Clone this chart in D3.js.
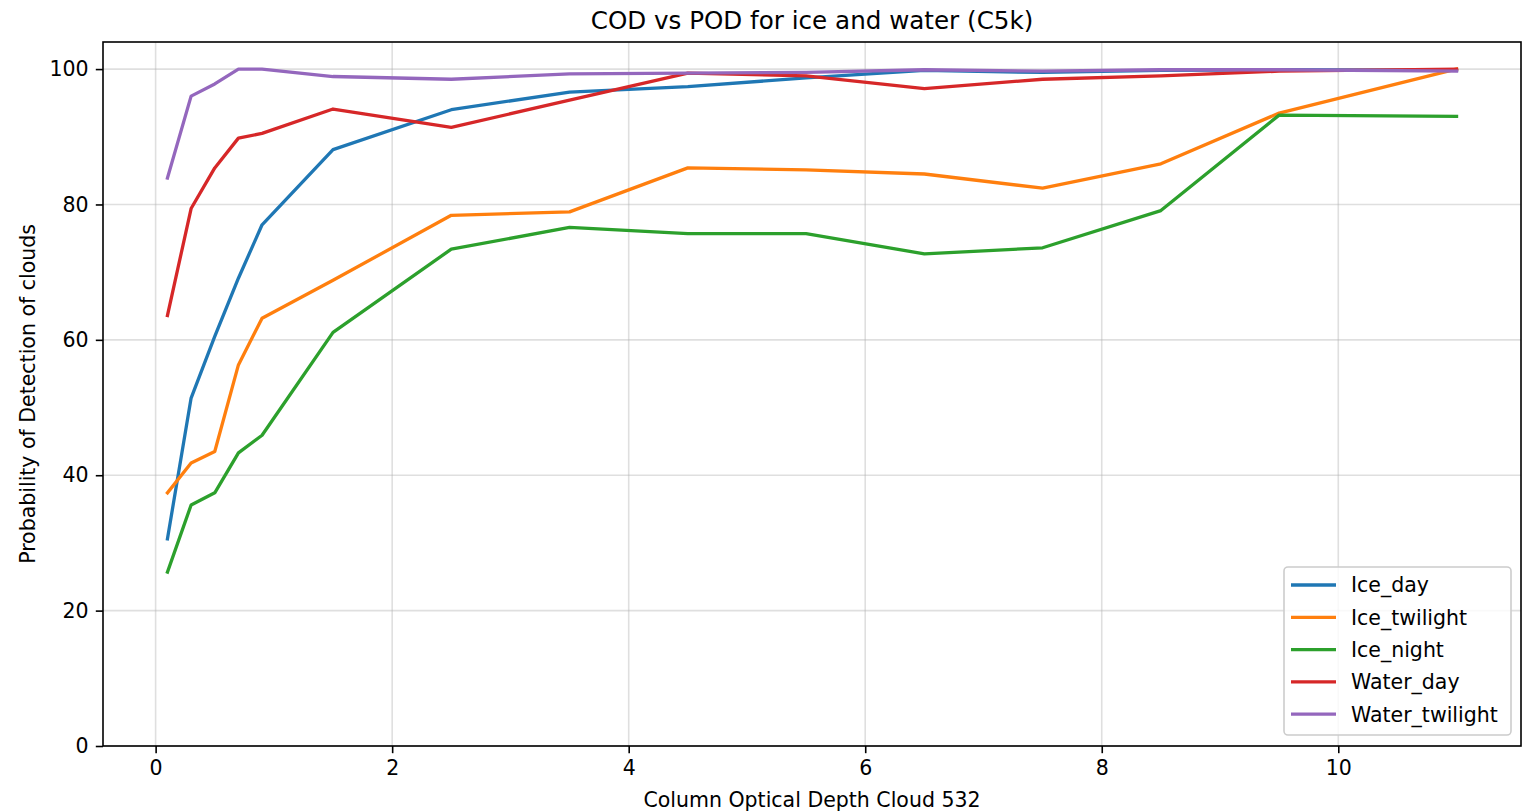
<!DOCTYPE html>
<html>
<head>
<meta charset="utf-8">
<script src="https://cdn.jsdelivr.net/npm/d3@7"></script>
<style>
  html, body { margin: 0; padding: 0; background: #fff; }
  svg { display: block; font-family: "DejaVu Sans", sans-serif; }
</style>
</head>
<body>
<svg id="chart" width="1525" height="811"></svg>
<script>
// Column optical depth bins (x) and probability of detection (%) per cloud class
const cod = [0.1, 0.3, 0.5, 0.7, 0.9, 1.5, 2.5, 3.5, 4.5, 5.5, 6.5, 7.5, 8.5, 9.5, 11];

const iceDay       = [30.6, 51.4, 60.5, 69.1, 77.0, 88.1, 94.0, 96.6, 97.4, 98.7, 99.8, 99.5, 99.8, 99.9, 99.8];
const iceTwilight  = [37.4, 41.8, 43.5, 56.3, 63.2, 68.8, 78.4, 78.9, 85.4, 85.1, 84.5, 82.4, 86.0, 93.5, 100.0];
const iceNight     = [25.7, 35.6, 37.4, 43.3, 45.9, 61.1, 73.4, 76.6, 75.7, 75.7, 72.7, 73.6, 79.1, 93.2, 93.0];
const waterDay     = [63.6, 79.4, 85.4, 89.8, 90.5, 94.1, 91.4, 95.4, 99.4, 99.0, 97.1, 98.5, 99.0, 99.7, 100.0];
const waterTwilight= [83.9, 96.0, 97.8, 100.0, 100.0, 98.9, 98.5, 99.3, 99.4, 99.5, 99.9, 99.7, 99.9, 99.9, 99.7];

const seriesNames  = ["Ice_day", "Ice_twilight", "Ice_night", "Water_day", "Water_twilight"];
const seriesValues = [iceDay, iceTwilight, iceNight, waterDay, waterTwilight];
const seriesColors = ["#1f77b4", "#ff7f0e", "#2ca02c", "#d62728", "#9467bd"];

const xTicks = [0, 2, 4, 6, 8, 10];
const yTicks = [0, 20, 40, 60, 80, 100];
const yLimits = [0, 104];

const titleText  = "COD vs POD for ice and water (C5k)";
const xLabelText = "Column Optical Depth Cloud 532";
const yLabelText = "Probability of Detection of clouds";

// Plot frame
const margin = { left: 103, right: 4, top: 42, bottom: 65 };
const W = 1525, H = 811;
const plotW = W - margin.left - margin.right;
const plotH = H - margin.top - margin.bottom;

const xPad = (d3.max(cod) - d3.min(cod)) * 0.05;
const x = d3.scaleLinear()
  .domain([d3.min(cod) - xPad, d3.max(cod) + xPad])
  .range([margin.left, margin.left + plotW]);

const y = d3.scaleLinear()
  .domain(yLimits)
  .range([margin.top + plotH, margin.top]);

const svg = d3.select("#chart");
const fontPx = 20.5;

// Grid
const grid = svg.append("g");
grid.selectAll("line.gx").data(xTicks).join("line")
  .attr("x1", d => x(d)).attr("x2", d => x(d))
  .attr("y1", margin.top).attr("y2", margin.top + plotH)
  .attr("stroke", "#b0b0b0").attr("stroke-opacity", 0.4).attr("stroke-width", 1.6);
grid.selectAll("line.gy").data(yTicks).join("line")
  .attr("y1", d => y(d)).attr("y2", d => y(d))
  .attr("x1", margin.left).attr("x2", margin.left + plotW)
  .attr("stroke", "#b0b0b0").attr("stroke-opacity", 0.4).attr("stroke-width", 1.6);

// Series lines
const line = d3.line()
  .x((d, i) => x(cod[i]))
  .y(d => y(d));

const clipId = "plot-clip";
svg.append("clipPath").attr("id", clipId).append("rect")
  .attr("x", margin.left).attr("y", margin.top).attr("width", plotW).attr("height", plotH);

svg.append("g").attr("clip-path", `url(#${clipId})`)
  .selectAll("path").data(seriesValues).join("path")
  .attr("d", d => line(d))
  .attr("fill", "none")
  .attr("stroke", (d, i) => seriesColors[i])
  .attr("stroke-width", 3.3)
  .attr("stroke-linejoin", "round")
  .attr("stroke-linecap", "square");

// Axes
const xAxis = d3.axisBottom(x).tickValues(xTicks).tickFormat(d3.format("d"))
  .tickSize(7.2).tickPadding(7.2);
const yAxis = d3.axisLeft(y).tickValues(yTicks).tickFormat(d3.format("d"))
  .tickSize(7.2).tickPadding(7.2);

const gx = svg.append("g").attr("transform", `translate(0,${margin.top + plotH})`).call(xAxis);
const gy = svg.append("g").attr("transform", `translate(${margin.left},0)`).call(yAxis);
[gx, gy].forEach(g => {
  g.select(".domain").remove();
  g.selectAll(".tick line").attr("stroke", "#000").attr("stroke-width", 1.6);
  g.selectAll(".tick text").attr("fill", "#000")
    .style("font-size", fontPx + "px").style("font-family", "DejaVu Sans");
});

// Frame
svg.append("rect")
  .attr("x", margin.left).attr("y", margin.top)
  .attr("width", plotW).attr("height", plotH)
  .attr("fill", "none").attr("stroke", "#000").attr("stroke-width", 1.6);

// Titles
svg.append("text")
  .attr("x", margin.left + plotW / 2).attr("y", margin.top - 13)
  .attr("text-anchor", "middle")
  .style("font-size", "24.6px")
  .text(titleText);

svg.append("text")
  .attr("x", margin.left + plotW / 2).attr("y", 807)
  .attr("text-anchor", "middle")
  .style("font-size", fontPx + "px")
  .text(xLabelText);

svg.append("text")
  .attr("transform", `translate(35,${margin.top + plotH / 2}) rotate(-90)`)
  .attr("text-anchor", "middle")
  .style("font-size", fontPx + "px")
  .text(yLabelText);

// Legend
const lg = svg.append("g");
const lgX = 1284, lgY = 567, lgW = 227, lgH = 168, rowH = 32.3;
lg.append("rect")
  .attr("x", lgX).attr("y", lgY).attr("width", lgW).attr("height", lgH)
  .attr("rx", 4).attr("ry", 4)
  .attr("fill", "#fff").attr("fill-opacity", 0.8)
  .attr("stroke", "#cccccc").attr("stroke-width", 1.6);

const rows = lg.selectAll("g.row").data(seriesNames).join("g")
  .attr("transform", (d, i) => `translate(0,${lgY + 18 + i * rowH})`);
rows.append("line")
  .attr("x1", lgX + 7).attr("x2", lgX + 52)
  .attr("y1", 0).attr("y2", 0)
  .attr("stroke", (d, i) => seriesColors[i]).attr("stroke-width", 3.3);
rows.append("text")
  .attr("x", lgX + 67).attr("y", 0).attr("dy", "0.36em")
  .style("font-size", fontPx + "px")
  .text(d => d);
</script>
</body>
</html>
